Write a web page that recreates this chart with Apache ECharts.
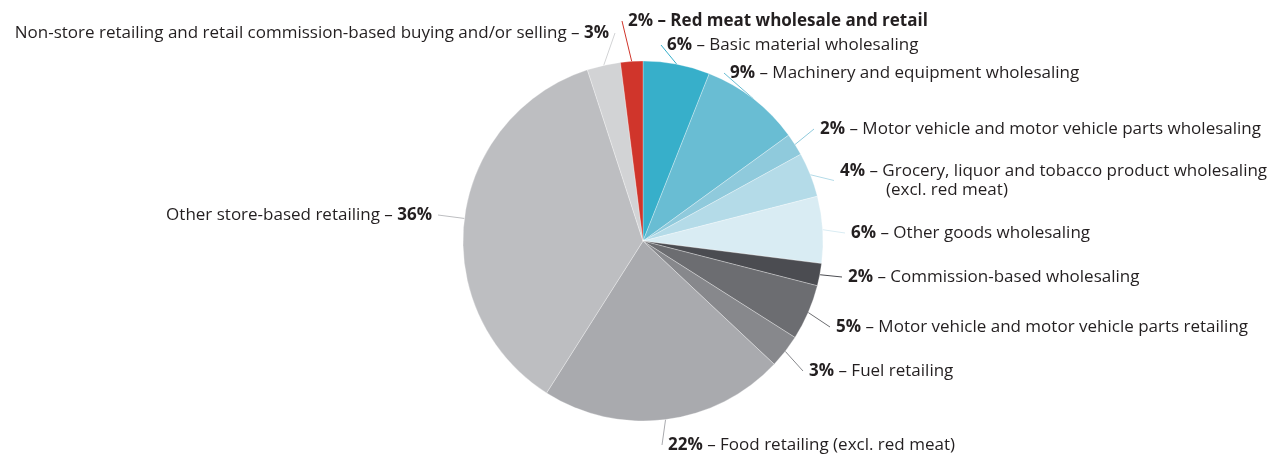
<!DOCTYPE html>
<html>
<head>
<meta charset="utf-8">
<script src="https://cdn.jsdelivr.net/npm/echarts@6/dist/echarts.min.js"></script>
<style>
html,body{margin:0;padding:0;background:#fff;}
#chart{width:1274px;height:455px;}
</style>
</head>
<body>
<div id="chart"></div>
<script>
// Data
const categories = [
  'Basic material wholesaling',
  'Machinery and equipment wholesaling',
  'Motor vehicle and motor vehicle parts wholesaling',
  'Grocery, liquor and tobacco product wholesaling\n(excl. red meat)',
  'Other goods wholesaling',
  'Commission-based wholesaling',
  'Motor vehicle and motor vehicle parts retailing',
  'Fuel retailing',
  'Food retailing (excl. red meat)',
  'Other store-based retailing',
  'Non-store retailing and retail commission-based buying and/or selling',
  'Red meat wholesale and retail'
];
const values = [6, 9, 2, 4, 6, 2, 5, 3, 22, 36, 3, 2];

// Styles / layout (not data)
const colors = ['#37afca', '#69bdd3', '#8fcadc', '#b4dbe8', '#d9ecf3', '#4b4c51', '#6c6d71', '#87888c', '#a9aaae', '#bdbec1', '#d2d3d5', '#d0352b'];
const labelPos = [
  [667, 45, 'left'], [730, 73, 'left'], [820, 129, 'left'], [840, 180.5, 'left'],
  [851, 233, 'left'], [848, 277, 'left'], [836, 327, 'left'], [809, 371, 'left'],
  [668, 445, 'left'], [432, 215, 'right'], [609, 33, 'right'], [628, 21, 'left']
];
const leftSide = [9, 10];
const highlightIdx = 11;
const pad = 6;
const fs = 17;

const chart = echarts.init(document.getElementById('chart'));
const font = '"Open Sans", Lato, sans-serif';
const data = categories.map((c, i) => ({ name: c, value: values[i], itemStyle: { color: colors[i] } }));

chart.setOption({
  animation: false,
  series: [{
    type: 'pie',
    center: [643, 241],
    radius: 180,
    startAngle: 90,
    clockwise: true,
    data: data,
    itemStyle: { borderColor: '#fff', borderWidth: 0.3 },
    label: {
      show: true,
      color: '#231f20',
      fontFamily: font,
      fontSize: fs,
      lineHeight: 19,
      overflow: 'none',
      padding: [5, pad, 5, pad],
      formatter: function (p) {
        const i = p.dataIndex;
        const v = p.value + '%';
        if (i === highlightIdx) return '{bb|' + v + ' – ' + p.name + '}';
        if (leftSide.indexOf(i) >= 0) return p.name + ' – {b|' + v + '}';
        return '{b|' + v + '} – ' + p.name.replace('\n', '\n{ind|}');
      },
      rich: {
        b: { fontWeight: 'bold', fontFamily: font, fontSize: fs, color: '#231f20', lineHeight: 19 },
        bb: { fontWeight: 'bold', fontFamily: font, fontSize: fs, color: '#231f20', lineHeight: 19 },
        ind: { width: 46, lineHeight: 19 }
      }
    },
    labelLine: { show: true, length: 8, length2: 0, lineStyle: { width: 1 } },
    labelLayout: function (params) {
      const p = labelPos[params.dataIndex];
      const x = p[2] === 'left' ? p[0] - pad : p[0] + pad;
      return { x: x, y: p[1], align: p[2], verticalAlign: 'middle' };
    }
  }]
});
</script>
</body>
</html>
